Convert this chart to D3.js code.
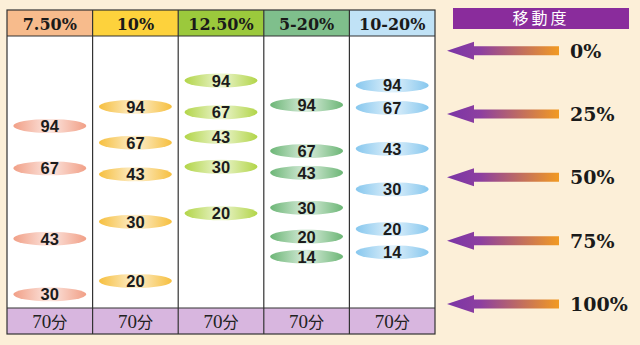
<!DOCTYPE html>
<html><head><meta charset="utf-8">
<script src="https://cdn.jsdelivr.net/npm/d3@7"></script>
<style>
html,body{margin:0;padding:0;background:#fcefd8;}
svg{display:block;}
</style></head>
<body>
<svg id="c" width="640" height="345"></svg>
<script>
// ---- data ----
const gels = ["7.50%", "10%", "12.50%", "5-20%", "10-20%"];
const runTime = ["70分", "70分", "70分", "70分", "70分"];
const markerKDa = [
  [94, 67, 43, 30],
  [94, 67, 43, 30, 20],
  [94, 67, 43, 30, 20],
  [94, 67, 43, 30, 20, 14],
  [94, 67, 43, 30, 20, 14]
];
// relative mobility (%)
const mobility = [
  [29.7, 46.4, 74.2, 96.2],
  [22.1, 36.3, 48.8, 67.5, 90.9],
  [11.8, 24.3, 34.0, 45.8, 64.2],
  [21.4, 39.6, 48.2, 62.0, 73.4, 81.3],
  [13.7, 22.5, 38.7, 54.7, 70.4, 79.6]
];
const mobilityTicks = [0, 25, 50, 75, 100];
const legendTitle = "移動度";

// ---- style ----
const headerFill = ["#f7bb8c", "#fdd23c", "#9bc93c", "#7fbf8c", "#c0e2f6"];
const bandFill = ["#f19f86", "#f6bf3e", "#b2d548", "#6cb676", "#86c7ee"];

const svg = d3.select("#c");
const defs = svg.append("defs");

const tableL = 7, tableR = 435, headT = 10, headB = 36, footT = 308, footB = 334;

const x = d3.scaleBand().domain(d3.range(gels.length)).range([tableL, tableR]);
const y = d3.scaleLinear().domain([0, 100]).range([50.7, 304]);

// gradients
bandFill.forEach((c, i) => {
  const g = defs.append("linearGradient").attr("id", "bg" + i).attr("x1", "0").attr("x2", "1");
  g.append("stop").attr("offset", "0").attr("stop-color", c);
  g.append("stop").attr("offset", "0.5").attr("stop-color", d3.interpolateRgb(c, "#ffffff")(0.75));
  g.append("stop").attr("offset", "1").attr("stop-color", c);
});
const ag = defs.append("linearGradient").attr("id", "arrowG").attr("x1", "0").attr("x2", "1");
ag.append("stop").attr("offset", "0").attr("stop-color", "#7a35a6");
ag.append("stop").attr("offset", "0.3").attr("stop-color", "#8d3fa0");
ag.append("stop").attr("offset", "1").attr("stop-color", "#f29a22");

// table body
svg.append("rect").attr("x", tableL).attr("y", headB).attr("width", tableR - tableL).attr("height", footT - headB).attr("fill", "#ffffff");

// header
const head = svg.append("g").selectAll("g").data(gels).join("g");
head.append("rect").attr("x", (d, i) => x(i)).attr("y", headT).attr("width", x.bandwidth()).attr("height", headB - headT)
  .attr("fill", (d, i) => headerFill[i]);
head.append("text").attr("x", (d, i) => x(i) + x.bandwidth() / 2).attr("y", headT + 19.5)
  .attr("text-anchor", "middle").attr("font-family", "DejaVu Serif").attr("font-weight", "bold").attr("font-size", 16)
  .attr("fill", "#1a1a1a").text(d => d);

// footer
const foot = svg.append("g").selectAll("g").data(runTime).join("g");
foot.append("rect").attr("x", (d, i) => x(i)).attr("y", footT).attr("width", x.bandwidth()).attr("height", footB - footT)
  .attr("fill", "#d8b6df");
foot.append("text").attr("x", (d, i) => x(i) + x.bandwidth() / 2).attr("y", footT + 20)
  .attr("text-anchor", "middle").attr("fill", "#222")
  .each(function (d) {
    const t = d3.select(this);
    t.append("tspan").attr("font-family", "Liberation Serif").attr("font-size", 19).text(d.replace("分", ""));
    t.append("tspan").attr("font-family", "Noto Sans CJK JP").attr("font-size", 16).text("分");
  });

// bands
const lanes = svg.append("g").selectAll("g").data(gels).join("g");
lanes.each(function (d, i) {
  const cx = x(i) + x.bandwidth() / 2;
  const bands = markerKDa[i].map((k, j) => ({ k, m: mobility[i][j] }));
  const g = d3.select(this);
  g.selectAll("ellipse").data(bands).join("ellipse")
    .attr("cx", cx).attr("cy", b => y(b.m)).attr("rx", 36.5).attr("ry", 7)
    .attr("fill", "url(#bg" + i + ")");
  g.selectAll("text").data(bands).join("text")
    .attr("x", cx).attr("y", b => y(b.m) + 6).attr("text-anchor", "middle")
    .attr("font-family", "Liberation Sans").attr("font-weight", "bold").attr("font-size", 16.5)
    .attr("fill", "#1c1c1c").text(b => b.k);
});

// grid lines
const lines = svg.append("g").attr("stroke", "#333").attr("stroke-width", 1.2).attr("fill", "none");
lines.append("rect").attr("x", tableL).attr("y", headT).attr("width", tableR - tableL).attr("height", footB - headT);
lines.selectAll("line.v").data(d3.range(1, gels.length)).join("line").attr("class", "v")
  .attr("x1", i => x(i)).attr("x2", i => x(i)).attr("y1", headT).attr("y2", footB);
lines.append("line").attr("x1", tableL).attr("x2", tableR).attr("y1", headB).attr("y2", headB);
lines.append("line").attr("x1", tableL).attr("x2", tableR).attr("y1", footT).attr("y2", footT);

// legend title
svg.append("rect").attr("x", 453).attr("y", 8).attr("width", 176).attr("height", 21).attr("fill", "#8a2c9c");
svg.append("text").attr("x", 541).attr("y", 24).attr("text-anchor", "middle")
  .attr("font-family", "Noto Sans CJK JP").attr("font-size", 16).attr("letter-spacing", 3)
  .attr("fill", "#ffffff").text(legendTitle);

// arrows
const arr = svg.append("g").selectAll("g").data(mobilityTicks).join("g")
  .attr("transform", d => `translate(0,${y(d)})`);
arr.append("path")
  .attr("d", "M447,0 L474,-9 L474,-4.5 L559,-4.5 L559,4.5 L474,4.5 L474,9 Z")
  .attr("fill", "url(#arrowG)");
arr.append("text").attr("x", 570).attr("y", 7)
  .attr("font-family", "DejaVu Serif").attr("font-weight", "bold").attr("font-size", 19)
  .attr("fill", "#1a1a1a").text(d => d + "%");
</script>
</body></html>
